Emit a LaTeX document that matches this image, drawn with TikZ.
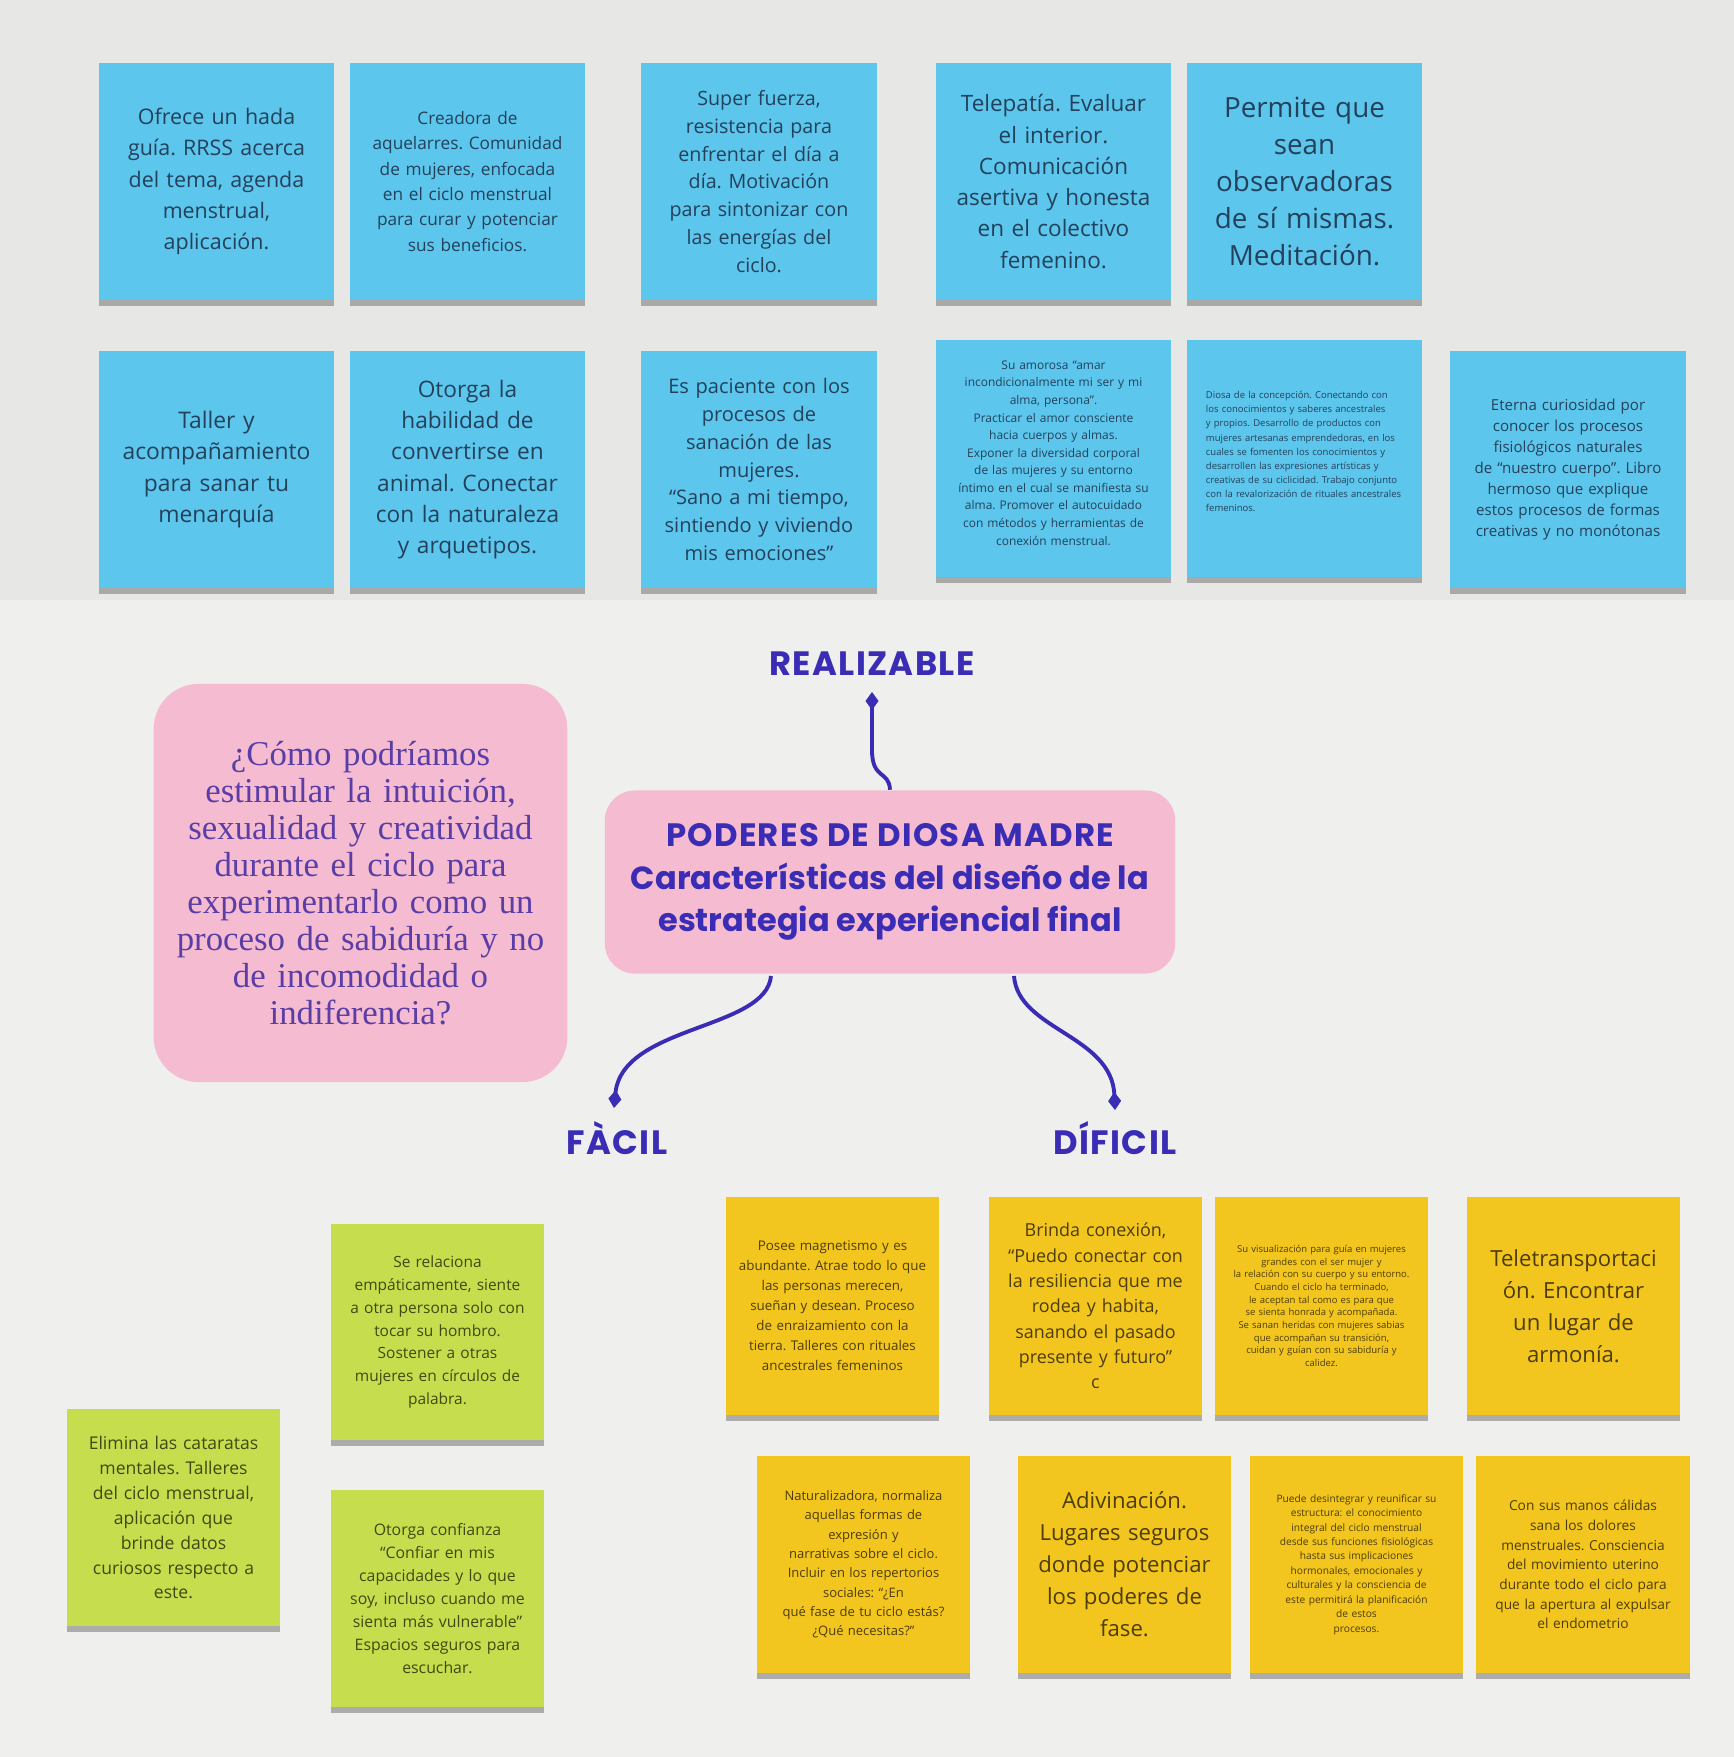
\documentclass[tikz,border=0pt]{standalone}
\usepackage{fontspec}
\setmainfont{Open Sans}
\newfontfamily\headfont{Poppins}
\newfontfamily\headcaps{Poppins}[LetterSpace=4]
\newfontfamily\askfont{Liberation Serif}
\usetikzlibrary{arrows.meta,shadows}
\definecolor{azul}{HTML}{5CC6EC}
\definecolor{azultxt}{HTML}{24415C}
\definecolor{amarillo}{HTML}{F2C61E}
\definecolor{amatxt}{HTML}{4D3D0A}
\definecolor{verde}{HTML}{C6DE4E}
\definecolor{verdetxt}{HTML}{3E4A12}
\definecolor{rosa}{HTML}{F5BBD0}
\definecolor{tinta}{HTML}{3A2CB4}
\definecolor{lila}{HTML}{5A3EA6}
\definecolor{papel}{HTML}{EFEFEE}
\definecolor{papelgris}{HTML}{E7E7E6}
\newcommand{\fs}[2]{\fontsize{#1}{#2}\selectfont}
\hyphenpenalty=10000 \exhyphenpenalty=10000
\frenchspacing
\begin{document}
\begin{tikzpicture}[x=0.01cm,y=-0.01cm,
    nota/.style={inner xsep=0.5mm,inner ysep=1mm,align=center,
      drop shadow={shadow xshift=0pt,shadow yshift=-0.6mm,opacity=.6}},
    azulnota/.style={nota,fill=azul,text=azultxt,text width=2.25cm,minimum height=2.37cm},
    amanota/.style={nota,fill=amarillo,text=amatxt,text width=2.03cm,minimum height=2.17cm},
    verdenota/.style={nota,fill=verde,text=verdetxt,text width=2.03cm,minimum height=2.16cm},
    titulo/.style={font=\headcaps\bfseries\fs{9.6}{12.1},text=tinta,align=center},
    conector/.style={draw=tinta,line width=1.1pt,-{Diamond[length=1.8mm,width=1.3mm]}}]
% papel
\fill[papel](0,0)rectangle(1734,1757);
\fill[papelgris](0,0)rectangle(1734,600);
% notas azules
\node[azulnota,font=\fs{6.1}{8.9}](b1)at(216.5,181.5){Ofrece un hada\\guía. RRSS acerca\\del tema, agenda\\menstrual,\\aplicación.};
\node[azulnota,font=\fs{4.9}{7.2}](b2)at(467.5,181.5){Creadora de\\aquelarres. Comunidad\\de mujeres, enfocada\\en el ciclo menstrual\\para curar y potenciar\\sus beneficios.};
\node[azulnota,font=\fs{5.6}{7.9}](b3)at(759,181.5){Super fuerza,\\resistencia para\\enfrentar el día a\\día. Motivación\\para sintonizar con\\las energías del\\ciclo.};
\node[azulnota,font=\fs{6.4}{8.9}](b4)at(1053.5,181.5){Telepatía. Evaluar\\el interior.\\Comunicación\\asertiva y honesta\\en el colectivo\\femenino.};
\node[azulnota,font=\fs{7.9}{10.5}](b5)at(1304.5,181.5){Permite que\\sean\\observadoras\\de sí mismas.\\Meditación.};
\node[azulnota,font=\fs{6.5}{8.9}](b6)at(216.5,469.5){Taller y\\acompañamiento\\para sanar tu\\menarquía};
\node[azulnota,font=\fs{6.45}{8.9}](b7)at(467.5,469.5){Otorga la\\habilidad de\\convertirse en\\animal. Conectar\\con la naturaleza\\y arquetipos.};
\node[azulnota,font=\fs{5.7}{7.9}](b8)at(759,469.5){Es paciente con los\\procesos de\\sanación de las\\mujeres.\\“Sano a mi tiempo,\\sintiendo y viviendo\\mis emociones”};
\node[azulnota,font=\fs{3.4}{5}](b9)at(1053.5,458.5){Su amorosa “amar\\incondicionalmente mi ser y mi\\alma, persona”.\\Practicar el amor consciente\\hacia cuerpos y almas.\\Exponer la diversidad corporal\\de las mujeres y su entorno\\íntimo en el cual se manifiesta su\\alma. Promover el autocuidado\\con métodos y herramientas de\\conexión menstrual.\\[-1.8pt]~};
\node[azulnota,font=\fs{2.7}{4},align=left,text width=1.97cm,inner xsep=1.9mm](b10)at(1304.5,458.5){Diosa de la concepción. Conectando con\\los conocimientos y saberes ancestrales\\y propios. Desarrollo de productos con\\mujeres artesanas emprendedoras, en los\\cuales se fomenten los conocimientos y\\desarrollen las expresiones artísticas y\\creativas de su ciclicidad. Trabajo conjunto\\con la revalorización de rituales ancestrales\\femeninos.\\~};
\node[azulnota,font=\fs{4.3}{6}](b11)at(1568,469.5){Eterna curiosidad por\\conocer los procesos\\fisiológicos naturales\\de “nuestro cuerpo”. Libro\\hermoso que explique\\estos procesos de formas\\creativas y no monótonas};
% centro y pregunta
\node[fill=rosa,rounded corners=0.45cm,minimum width=4.11cm,minimum height=3.98cm,
  text width=3.9cm,align=center,text=lila,font=\askfont\fs{9.9}{10.5}](pregunta)at(360.5,883)
  {¿Cómo podríamos\\estimular la intuición,\\sexualidad y creatividad\\durante el ciclo para\\experimentarlo como un\\proceso de sabiduría y no\\de incomodidad o\\indiferencia?};
\node[fill=rosa,rounded corners=0.3cm,minimum width=5.7cm,minimum height=1.83cm,titulo](centro)at(890,882)
  {{\fs{9.2}{12.1}PODERES DE DIOSA MADRE}\\{\headfont\bfseries\fs{9.1}{12.1}Características del diseño de la}\\{\headfont\bfseries\fs{9.1}{12.1}estrategia experiencial final}};
\node[titulo](realizable)at(872,664){REALIZABLE};
\node[titulo](facil)at(617,1138){FÀCIL};
\node[titulo](dificil)at(1115,1138){DÍFICIL};
\coordinate(realD)at(872,692);
\coordinate(facilS)at(771,976);
\coordinate(facilD)at(614,1108);
\coordinate(dificilS)at(1014,976);
\coordinate(dificilD)at(1115,1110);
\draw[conector](centro.north)..controls(889,770)and(872,780)..(872,750)--(realD);
\draw[conector](facilS)..controls(766,1030)and(622,1025)..(facilD);
\draw[conector](dificilS)..controls(1018,1030)and(1112,1035)..(dificilD);
% notas verdes
\node[verdenota,font=\fs{4.4}{6.5}](g1)at(437.5,1332){Se relaciona\\empáticamente, siente\\a otra persona solo con\\tocar su hombro.\\Sostener a otras\\mujeres en círculos de\\palabra.};
\node[verdenota,font=\fs{5}{7.1}](g2)at(173.5,1517.5){Elimina las cataratas\\mentales. Talleres\\del ciclo menstrual,\\aplicación que\\brinde datos\\curiosos respecto a\\este.};
\node[verdenota,font=\fs{4.5}{6.5}](g3)at(437.5,1598.5){Otorga confianza\\“Confiar en mis\\capacidades y lo que\\soy, incluso cuando me\\sienta más vulnerable”\\Espacios seguros para\\escuchar.};
% notas amarillas
\node[amanota,font=\fs{3.8}{5.7}](y1)at(832.5,1306){Posee magnetismo y es\\abundante. Atrae todo lo que\\las personas merecen,\\sueñan y desean. Proceso\\de enraizamiento con la\\tierra. Talleres con rituales\\ancestrales femeninos};
\node[amanota,font=\fs{5.1}{7.2}](y2)at(1095.5,1306){Brinda conexión,\\“Puedo conectar con\\la resiliencia que me\\rodea y habita,\\sanando el pasado\\presente y futuro”\\c};
\node[amanota,font=\fs{2.7}{3.6}](y3)at(1321.5,1306){Su visualización para guía en mujeres\\grandes con el ser mujer y\\la relación con su cuerpo y su entorno.\\Cuando el ciclo ha terminado,\\le aceptan tal como es para que\\se sienta honrada y acompañada.\\Se sanan heridas con mujeres sabias\\que acompañan su transición,\\cuidan y guían con su sabiduría y\\calidez.};
\node[amanota,font=\fs{6.3}{9.1}](y4)at(1573.5,1306){Teletransportaci\\ón. Encontrar\\un lugar de\\armonía.};
\node[amanota,font=\fs{3.7}{5.5}](y5)at(863.5,1564.5){Naturalizadora, normaliza\\aquellas formas de\\expresión y\\narrativas sobre el ciclo.\\Incluir en los repertorios\\sociales: “¿En\\qué fase de tu ciclo estás?\\¿Qué necesitas?”};
\node[amanota,font=\fs{6.3}{9.1}](y6)at(1124.5,1564.5){Adivinación.\\Lugares seguros\\donde potenciar\\los poderes de\\fase.};
\node[amanota,font=\fs{2.9}{4.1}](y7)at(1356.5,1564.5){Puede desintegrar y reunificar su\\estructura: el conocimiento\\integral del ciclo menstrual\\desde sus funciones fisiológicas\\hasta sus implicaciones\\hormonales, emocionales y\\culturales y la consciencia de\\este permitirá la planificación\\de estos\\procesos.};
\node[amanota,font=\fs{3.9}{5.6}](y8)at(1583,1564.5){Con sus manos cálidas\\sana los dolores\\menstruales. Consciencia\\del movimiento uterino\\durante todo el ciclo para\\que la apertura al expulsar\\el endometrio};
\end{tikzpicture}
\end{document}
